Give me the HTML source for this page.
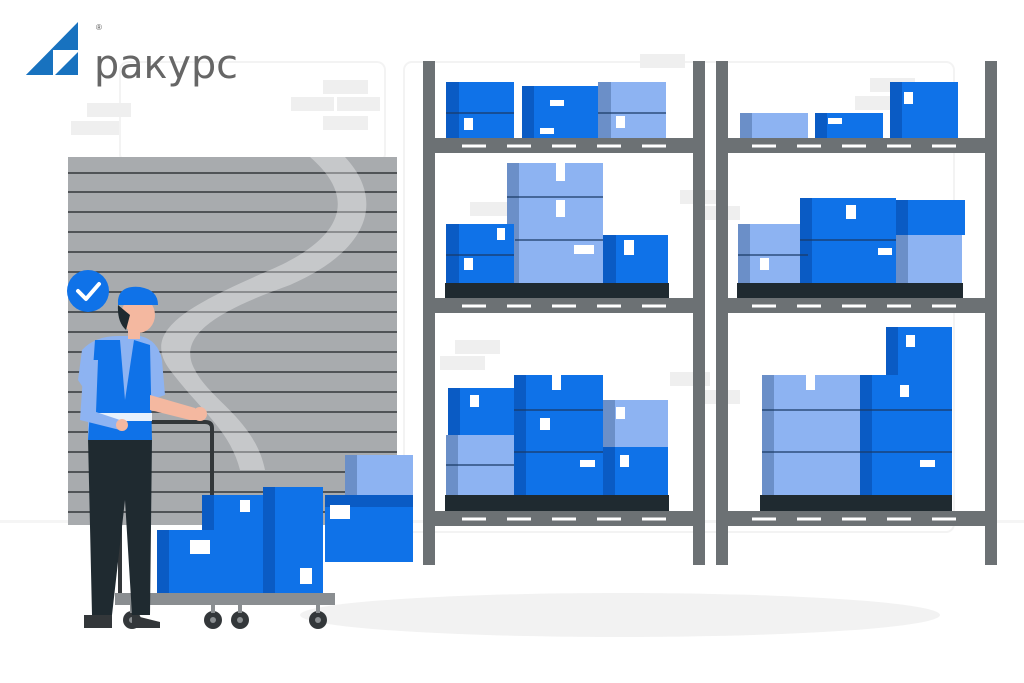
<!DOCTYPE html>
<html><head><meta charset="utf-8"><style>
html,body{margin:0;padding:0;background:#fff;width:1024px;height:683px;overflow:hidden}
</style></head><body>
<svg width="1024" height="683" viewBox="0 0 1024 683" xmlns="http://www.w3.org/2000/svg">
<rect width="1024" height="683" fill="#fff"/>
<rect x="120" y="62" width="265" height="100" rx="8" fill="none" stroke="#f3f3f3" stroke-width="2"/>
<rect x="404" y="62" width="550" height="470" rx="8" fill="none" stroke="#f3f3f3" stroke-width="2"/>
<g fill="#efefef">
<rect x="87" y="103" width="44" height="14"/><rect x="71" y="121" width="48" height="14"/>
<rect x="323" y="80" width="45" height="14"/><rect x="291" y="97" width="43" height="14"/><rect x="337" y="97" width="43" height="14"/><rect x="323" y="116" width="45" height="14"/>
<rect x="640" y="54" width="45" height="14"/><rect x="470" y="202" width="40" height="14"/>
<rect x="455" y="340" width="45" height="14"/><rect x="440" y="356" width="45" height="14"/>
<rect x="870" y="78" width="45" height="14"/><rect x="855" y="96" width="40" height="14"/>
<rect x="680" y="190" width="40" height="14"/><rect x="700" y="206" width="40" height="14"/>
<rect x="670" y="372" width="40" height="14"/><rect x="700" y="390" width="40" height="14"/>
</g>
<rect x="0" y="520" width="1024" height="3" fill="#f5f5f5"/>
<ellipse cx="620" cy="615" rx="320" ry="22" fill="#f2f2f2"/>
<!-- logo -->
<polygon points="26,75 78,22 78,75" fill="#1872bf"/>
<polygon points="53,50 78,50 78,75 53,75" fill="#fff"/>
<polygon points="55,75 78,52 78,75" fill="#1872bf"/>
<polygon points="26,75 50,51 50,75" fill="#1872bf"/>
<text x="94" y="78" font-family="DejaVu Sans, sans-serif" font-size="40" font-weight="normal" fill="#666" textLength="144" lengthAdjust="spacingAndGlyphs">ракурс</text>
<text x="96" y="30" font-family="Liberation Sans, sans-serif" font-size="8" fill="#555">®</text>
<!-- garage door -->
<rect x="68" y="157" width="329" height="368" fill="#a8abae"/>
<g stroke="#33373a" stroke-width="1.5">
<line x1="68" y1="173" x2="397" y2="173"/><line x1="68" y1="192" x2="397" y2="192"/><line x1="68" y1="212" x2="397" y2="212"/><line x1="68" y1="232" x2="397" y2="232"/><line x1="68" y1="252" x2="397" y2="252"/><line x1="68" y1="272" x2="397" y2="272"/><line x1="68" y1="292" x2="397" y2="292"/><line x1="68" y1="312" x2="397" y2="312"/><line x1="68" y1="332" x2="397" y2="332"/><line x1="68" y1="352" x2="397" y2="352"/><line x1="68" y1="372" x2="397" y2="372"/><line x1="68" y1="392" x2="397" y2="392"/><line x1="68" y1="412" x2="397" y2="412"/><line x1="68" y1="432" x2="397" y2="432"/><line x1="68" y1="452" x2="397" y2="452"/><line x1="68" y1="472" x2="397" y2="472"/><line x1="68" y1="492" x2="397" y2="492"/><line x1="68" y1="512" x2="397" y2="512"/>
</g>
<path d="M310,157 C360,200 340,240 270,270 C190,305 140,330 170,370 C200,410 230,430 240,470 L265,470 C255,420 210,400 195,370 C175,335 220,310 290,285 C370,250 385,200 345,157 Z" fill="#fff" opacity="0.35"/>
<!-- shelving -->
<g fill="#6c7174">
<rect x="423" y="61" width="12" height="504"/><rect x="693" y="61" width="12" height="504"/>
<rect x="716" y="61" width="12" height="504"/><rect x="985" y="61" width="12" height="504"/>
<rect x="423" y="138" width="282" height="15"/><rect x="423" y="298" width="282" height="15"/><rect x="423" y="511" width="282" height="15"/>
<rect x="716" y="138" width="281" height="15"/><rect x="716" y="298" width="281" height="15"/><rect x="716" y="511" width="281" height="15"/>
</g>
<g stroke="#fff" stroke-width="3" stroke-dasharray="24,21">
<line x1="462" y1="146" x2="680" y2="146"/><line x1="462" y1="306" x2="680" y2="306"/><line x1="462" y1="519" x2="680" y2="519"/>
<line x1="752" y1="146" x2="970" y2="146"/><line x1="752" y1="306" x2="970" y2="306"/><line x1="752" y1="519" x2="970" y2="519"/>
</g>
<g fill="#1f2a30">
<rect x="445" y="283" width="224" height="15"/><rect x="737" y="283" width="226" height="15"/>
<rect x="445" y="495" width="224" height="16"/><rect x="760" y="495" width="192" height="16"/>
</g>
<g>
<rect x="446" y="82" width="68" height="56" fill="#0f72e8"/><rect x="446" y="82" width="13" height="56" fill="#0a5bc4"/>
<rect x="522" y="86" width="78" height="52" fill="#0f72e8"/><rect x="522" y="86" width="12" height="52" fill="#0a5bc4"/>
<rect x="598" y="82" width="68" height="56" fill="#8db3f2"/><rect x="598" y="82" width="13" height="56" fill="#6b8fc8"/>
<rect x="507" y="163" width="96" height="120" fill="#8db3f2"/><rect x="507" y="163" width="12" height="120" fill="#6b8fc8"/>
<rect x="446" y="224" width="68" height="59" fill="#0f72e8"/><rect x="446" y="224" width="13" height="59" fill="#0a5bc4"/>
<rect x="603" y="235" width="65" height="48" fill="#0f72e8"/><rect x="603" y="235" width="13" height="48" fill="#0a5bc4"/>
<rect x="448" y="388" width="66" height="47" fill="#0f72e8"/><rect x="448" y="388" width="12" height="47" fill="#0a5bc4"/>
<rect x="446" y="435" width="68" height="60" fill="#8db3f2"/><rect x="446" y="435" width="12" height="60" fill="#6b8fc8"/>
<rect x="514" y="375" width="89" height="120" fill="#0f72e8"/><rect x="514" y="375" width="12" height="120" fill="#0a5bc4"/>
<rect x="603" y="400" width="65" height="47" fill="#8db3f2"/><rect x="603" y="400" width="12" height="47" fill="#6b8fc8"/>
<rect x="603" y="447" width="65" height="48" fill="#0f72e8"/><rect x="603" y="447" width="12" height="48" fill="#0a5bc4"/>
<rect x="740" y="113" width="68" height="25" fill="#8db3f2"/><rect x="740" y="113" width="12" height="25" fill="#6b8fc8"/>
<rect x="815" y="113" width="68" height="25" fill="#0f72e8"/><rect x="815" y="113" width="12" height="25" fill="#0a5bc4"/>
<rect x="890" y="82" width="68" height="56" fill="#0f72e8"/><rect x="890" y="82" width="12" height="56" fill="#0a5bc4"/>
<rect x="738" y="224" width="70" height="59" fill="#8db3f2"/><rect x="738" y="224" width="12" height="59" fill="#6b8fc8"/>
<rect x="800" y="198" width="96" height="85" fill="#0f72e8"/><rect x="800" y="198" width="12" height="85" fill="#0a5bc4"/>
<rect x="896" y="200" width="69" height="35" fill="#0f72e8"/><rect x="896" y="200" width="12" height="35" fill="#0a5bc4"/>
<rect x="896" y="235" width="66" height="48" fill="#8db3f2"/><rect x="896" y="235" width="12" height="48" fill="#6b8fc8"/>
<rect x="762" y="375" width="98" height="120" fill="#8db3f2"/><rect x="762" y="375" width="12" height="120" fill="#6b8fc8"/>
<rect x="860" y="375" width="92" height="120" fill="#0f72e8"/><rect x="860" y="375" width="12" height="120" fill="#0a5bc4"/>
<rect x="886" y="327" width="66" height="48" fill="#0f72e8"/><rect x="886" y="327" width="12" height="48" fill="#0a5bc4"/>
</g>
<g stroke="#1b3a66" stroke-width="1.2">
<line x1="446" y1="113" x2="514" y2="113"/><line x1="598" y1="113" x2="666" y2="113"/>
<line x1="507" y1="197" x2="603" y2="197"/><line x1="515" y1="240" x2="603" y2="240"/><line x1="446" y1="255" x2="514" y2="255"/>
<line x1="514" y1="410" x2="603" y2="410"/><line x1="514" y1="452" x2="603" y2="452"/><line x1="446" y1="465" x2="514" y2="465"/>
<line x1="762" y1="410" x2="860" y2="410"/><line x1="762" y1="452" x2="860" y2="452"/><line x1="860" y1="410" x2="952" y2="410"/><line x1="860" y1="452" x2="952" y2="452"/>
<line x1="800" y1="240" x2="896" y2="240"/><line x1="738" y1="255" x2="808" y2="255"/>
</g>
<g fill="#fff">
<rect x="464" y="118" width="9" height="12"/><rect x="550" y="100" width="14" height="6"/><rect x="540" y="128" width="14" height="6"/><rect x="616" y="116" width="9" height="12"/>
<rect x="556" y="163" width="9" height="18"/><rect x="556" y="200" width="9" height="17"/><rect x="574" y="245" width="20" height="9"/>
<rect x="497" y="228" width="8" height="12"/><rect x="464" y="258" width="9" height="12"/><rect x="624" y="240" width="10" height="15"/>
<rect x="470" y="395" width="9" height="12"/><rect x="552" y="375" width="9" height="15"/><rect x="540" y="418" width="10" height="12"/><rect x="620" y="455" width="9" height="12"/><rect x="616" y="407" width="9" height="12"/><rect x="580" y="460" width="15" height="7"/>
<rect x="828" y="118" width="14" height="6"/><rect x="904" y="92" width="9" height="12"/><rect x="760" y="258" width="9" height="12"/><rect x="846" y="205" width="10" height="14"/><rect x="878" y="248" width="14" height="7"/>
<rect x="806" y="375" width="9" height="15"/><rect x="906" y="335" width="9" height="12"/><rect x="900" y="385" width="9" height="12"/><rect x="920" y="460" width="15" height="7"/>
</g>
<rect x="345" y="455" width="68" height="40" fill="#8db3f2"/><rect x="345" y="455" width="12" height="40" fill="#6b8fc8"/>
<rect x="325" y="495" width="88" height="67" fill="#0f72e8"/><rect x="325" y="495" width="88" height="12" fill="#0a5bc4"/>
<rect x="330" y="505" width="20" height="14" fill="#fff"/>
<rect x="157" y="530" width="108" height="63" fill="#0f72e8"/><rect x="157" y="530" width="12" height="63" fill="#0a5bc4"/>
<rect x="202" y="495" width="63" height="35" fill="#0f72e8"/><rect x="202" y="495" width="12" height="35" fill="#0a5bc4"/>
<rect x="263" y="487" width="60" height="106" fill="#0f72e8"/><rect x="263" y="487" width="12" height="106" fill="#0a5bc4"/>
<rect x="190" y="540" width="20" height="14" fill="#fff"/><rect x="300" y="568" width="12" height="16" fill="#fff"/><rect x="240" y="500" width="10" height="12" fill="#fff"/>
<rect x="115" y="593" width="220" height="12" fill="#8a8e91"/>
<path d="M120,593 L120,428 Q120,422 128,422 L205,422 Q212,422 212,428 L212,495" fill="none" stroke="#33373a" stroke-width="4"/>
<g fill="#33373a"><circle cx="132" cy="620" r="9"/><circle cx="213" cy="620" r="9"/><circle cx="240" cy="620" r="9"/><circle cx="318" cy="620" r="9"/></g>
<g fill="#8a8e91"><circle cx="132" cy="620" r="3"/><circle cx="213" cy="620" r="3"/><circle cx="240" cy="620" r="3"/><circle cx="318" cy="620" r="3"/></g>
<g fill="#8a8e91"><rect x="130" y="605" width="4" height="8"/><rect x="211" y="605" width="4" height="8"/><rect x="238" y="605" width="4" height="8"/><rect x="316" y="605" width="4" height="8"/></g>
<path d="M88,438 L152,438 L150,615 L132,615 L125,500 L112,615 L92,615 Z" fill="#1f2a30"/>
<path d="M84,615 L112,615 L112,628 L84,628 Z" fill="#33373a"/><path d="M132,615 L160,622 L160,628 L132,628 Z" fill="#33373a"/>
<path d="M82,350 Q95,336 118,336 L140,336 Q158,340 162,360 L165,395 L150,400 L150,440 L88,440 L88,395 L78,380 Z" fill="#8db3f2"/>
<path d="M95,340 L120,340 L125,400 L134,340 L150,345 L152,440 L88,440 Z" fill="#0f72e8"/>
<rect x="88" y="413" width="64" height="8" fill="#fff" opacity="0.9"/>
<path d="M150,395 L195,408 L200,420 L190,420 L150,410 Z" fill="#f4b8a0"/>
<circle cx="200" cy="414" r="7" fill="#f4b8a0"/>
<path d="M84,360 L80,420 L120,430 L120,420 L96,412 L98,360 Z" fill="#8db3f2"/>
<circle cx="122" cy="425" r="6" fill="#f4b8a0"/>
<rect x="128" y="325" width="12" height="14" fill="#f4b8a0"/>
<ellipse cx="138" cy="315" rx="17" ry="18" fill="#f4b8a0"/>
<path d="M118,300 Q120,285 140,287 Q158,290 158,305 L118,305 Z" fill="#0f72e8"/>
<path d="M118,305 Q117,322 126,330 L130,315 Z" fill="#1f2a30"/>
<circle cx="88" cy="291" r="21" fill="#0f72e8"/>
<path d="M78,291 L86,299 L99,284" fill="none" stroke="#fff" stroke-width="4" stroke-linecap="round" stroke-linejoin="round"/>
</svg>
</body></html>
